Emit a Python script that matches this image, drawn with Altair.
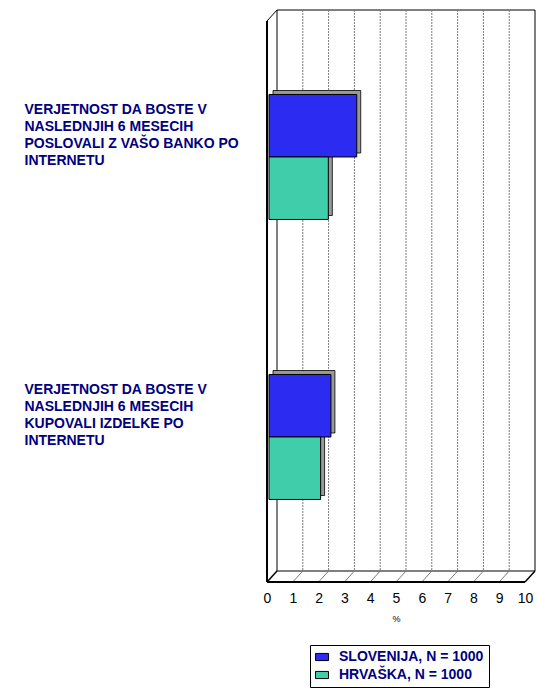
import altair as alt
import pandas as pd

categories = [
    "VERJETNOST DA BOSTE V|NASLEDNJIH 6 MESECIH|POSLOVALI Z VAŠO BANKO PO|INTERNETU",
    "VERJETNOST DA BOSTE V|NASLEDNJIH 6 MESECIH|KUPOVALI IZDELKE PO|INTERNETU",
]
series = ["SLOVENIJA, N = 1000", "HRVAŠKA, N = 1000"]
slovenija = [3.4, 2.4]
hrvaska = [2.3, 2.0]
tick_values = [0, 1, 2, 3, 4, 5, 6, 7, 8, 9, 10]
inner_ticks = [1, 2, 3, 4, 5, 6, 7, 8, 9]
colors = ["#2B2BF2", "#3FCDAA"]

rows = []
for i, c in enumerate(categories):
    rows.append({"cat": c, "series": series[0], "value": slovenija[i]})
    rows.append({"cat": c, "series": series[1], "value": hrvaska[i]})
df = pd.DataFrame(rows)
grid_df = pd.DataFrame({"t": inner_ticks})

W, H = 258, 561
DX, DY = 10, -11
FONT = "Liberation Sans"
NAVY = "#000080"

xscale = alt.Scale(domain=[0, 10], nice=False, zero=True)
xaxis = alt.Axis(values=tick_values, grid=False, domain=False, ticks=False,
                 tickSize=0, labelPadding=9, labelFont=FONT, labelFontSize=14,
                 labelFlush=False,
                 labelColor="black", titleFont=FONT, titleFontSize=9,
                 titleFontWeight="normal", titlePadding=9, titleColor="black",
                 title="%")


def xd(v):
    return alt.XDatum(v, type="quantitative", scale=xscale, axis=xaxis)


def x2d(v):
    return alt.X2Datum(v)


# back wall
back = alt.Chart().mark_rect(fill="white", stroke="black", strokeWidth=1,
                             xOffset=DX, x2Offset=DX).encode(
    x=xd(0), x2=x2d(10), y=alt.value(DY), y2=alt.value(H + DY))

# back grid lines
grid = alt.Chart(grid_df).mark_rule(color="#7a7a7a", strokeWidth=1, strokeDash=[2, 1],
                                    xOffset=DX).encode(
    x=alt.X("t:Q", scale=xscale, axis=xaxis), y=alt.value(DY), y2=alt.value(H + DY))

# floor diagonal lines
floor_grid = alt.Chart(grid_df).mark_rule(color="#7a7a7a", strokeWidth=1,
                                          x2Offset=DX).encode(
    x=alt.X("t:Q", scale=xscale, axis=xaxis), x2="t:Q",
    y=alt.value(H), y2=alt.value(H + DY))

# frame edges
left_front = alt.Chart().mark_rule(color="black", strokeWidth=2).encode(
    x=xd(0), y=alt.value(0), y2=alt.value(H))
top_diag = alt.Chart().mark_rule(color="black", strokeWidth=1, x2Offset=DX).encode(
    x=xd(0), x2=x2d(0), y=alt.value(0), y2=alt.value(DY))
floor_front = alt.Chart().mark_rule(color="black", strokeWidth=2).encode(
    x=xd(0), x2=x2d(10), y=alt.value(H))
floor_left = alt.Chart().mark_rule(color="black", strokeWidth=1.5, x2Offset=DX).encode(
    x=xd(0), x2=x2d(0), y=alt.value(H), y2=alt.value(H + DY))
floor_right = alt.Chart().mark_rule(color="black", strokeWidth=1.5, x2Offset=DX).encode(
    x=xd(10), x2=x2d(10), y=alt.value(H), y2=alt.value(H + DY))

PI, PO = 0.5536, 0.2786
yoff = alt.YOffset("series:N", sort=series, scale=alt.Scale(paddingInner=0, paddingOuter=0))

yaxis = alt.Axis(
    orient="left",
    labelAlign="left", labelBaseline="middle", labelPadding=243, tickSize=0,
    ticks=False, domain=False, grid=False,
    labelExpr="split(datum.label, '|')", labelLineHeight=17.3,
    labelFont=FONT, labelFontSize=14, labelFontWeight="bold", labelColor=NAVY,
    labelLimit=300)

# invisible layer carrying the category axis
labels = alt.Chart(df).mark_bar(opacity=0).encode(
    x=alt.X("value:Q", scale=xscale, axis=xaxis),
    y=alt.Y("cat:N", sort=categories,
            scale=alt.Scale(paddingInner=PI, paddingOuter=PO, align=0.167),
            axis=yaxis, title=None),
    yOffset=yoff)

shadow = alt.Chart(df).mark_bar(color="#999999", stroke="black", strokeWidth=0.8,
                                xOffset=6, x2Offset=6).encode(
    x=alt.X("value:Q", scale=xscale, axis=xaxis),
    y=alt.Y("cat:N", sort=categories,
            scale=alt.Scale(paddingInner=PI, paddingOuter=PO, align=0.4455),
            axis=None, title=None),
    yOffset=yoff)

bars = alt.Chart(df).mark_bar(stroke="black", strokeWidth=1, xOffset=2, x2Offset=2).encode(
    x=alt.X("value:Q", scale=xscale, axis=xaxis),
    y=alt.Y("cat:N", sort=categories,
            scale=alt.Scale(paddingInner=PI, paddingOuter=PO, align=0.471),
            axis=None, title=None),
    yOffset=yoff,
    color=alt.Color("series:N", sort=series,
                    scale=alt.Scale(domain=series, range=colors),
                    legend=alt.Legend(
                        orient="none", legendX=43, legendY=624, title=None,
                        padding=5, strokeColor="black", fillColor="white",
                        symbolType="M-1,-0.55L1,-0.55L1,0.55L-1,0.55Z", symbolSize=169,
                        symbolStrokeColor="black", symbolStrokeWidth=1,
                        labelFont=FONT, labelFontSize=14, labelFontWeight="bold",
                        labelColor=NAVY, labelOffset=10, rowPadding=4,
                        labelLimit=300)))

chart = alt.layer(back, grid, floor_grid, left_front, top_diag, floor_front,
                  floor_left, floor_right, labels, shadow, bars).resolve_scale(
    y="independent", yOffset="independent").properties(
    width=W, height=H,
    padding={"left": 267, "top": 21, "right": 12, "bottom": 108},
    autosize=alt.AutoSizeParams(type="none"),
    background="white",
).configure_view(stroke=None)

chart.save("out.html", embed_options={"renderer": "svg", "actions": False})
